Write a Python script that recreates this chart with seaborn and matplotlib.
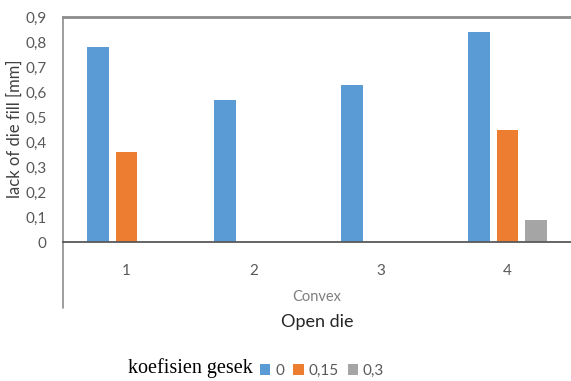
import pandas as pd
import matplotlib
matplotlib.use("Agg")
import matplotlib.pyplot as plt
import seaborn as sns

# data
kategori = ["1", "2", "3", "4"]
koefisien = ["0", "0,15", "0,3"]
nilai_0 = [0.78, 0.57, 0.63, 0.84]
nilai_015 = [0.36, 0.0, 0.0, 0.45]
nilai_03 = [0.0, 0.0, 0.0, 0.09]
y_ticks = [0, 0.1, 0.2, 0.3, 0.4, 0.5, 0.6, 0.7, 0.8, 0.9]
y_labels = ["0", "0,1", "0,2", "0,3", "0,4", "0,5", "0,6", "0,7", "0,8", "0,9"]

warna = ["#5B9BD5", "#ED7D31", "#A5A5A5"]
abu = "#595959"

df = pd.DataFrame({
    "kategori": kategori * 3,
    "koefisien": [k for k in koefisien for _ in kategori],
    "nilai": nilai_0 + nilai_015 + nilai_03,
})

sns.set_style("white")
plt.rcParams["font.family"] = ["Lato", "DejaVu Sans"]

fig = plt.figure(figsize=(5.71, 3.81), dpi=100)
ax = fig.add_axes([63 / 571, 1 - 242 / 381, 1 - 63 / 571, 225 / 381])

sns.barplot(data=df, x="kategori", y="nilai", hue="koefisien",
            palette=warna, saturation=1, width=0.67, gap=0.23,
            linewidth=0, ax=ax)

ax.set_ylim(0, 0.9)
ax.set_xlim(-0.5, 3.5)
ax.set_yticks(y_ticks)
ax.set_yticklabels(y_labels)
ax.tick_params(axis="y", length=0, pad=12, labelsize=11, labelcolor=abu)
ax.tick_params(axis="x", length=0, pad=16, labelsize=11, labelcolor=abu)
ax.set_xlabel("")
ax.set_ylabel("lack of die fill [mm]", fontsize=12, color="#404040")
ax.yaxis.set_label_coords(-0.079, 0.505)

for s in ["left", "right"]:
    ax.spines[s].set_visible(False)
ax.spines["top"].set_color("#8C8C8C")
ax.spines["top"].set_linewidth(2)
ax.spines["bottom"].set_color(abu)
ax.spines["bottom"].set_linewidth(1.3)
# left axis line runs down past the category labels (multi-level axis)
ax.plot([0, 0], [-0.293, 1], transform=ax.transAxes, color="#8C8C8C",
        linewidth=1.2, clip_on=False)

ax.text(0.5, -0.245, "Convex", transform=ax.transAxes, ha="center", va="center",
        fontsize=10.5, color="#7F7F7F")
ax.text(0.5, -0.355, "Open die", transform=ax.transAxes, ha="center", va="center",
        fontsize=13, color="#262626")

handles, labels = ax.get_legend_handles_labels()
ax.get_legend().remove()
fig.legend(handles, labels, loc="center", bbox_to_anchor=(322 / 571, 1 - 371 / 381),
           ncol=3, frameon=False, handlelength=0.7, handleheight=0.7,
           handletextpad=0.3, columnspacing=0.6, fontsize=11,
           labelcolor=abu)
fig.text(190 / 571, 1 - 368 / 381, "koefisien gesek", ha="center", va="center",
         fontsize=14.5, family="Liberation Serif", color="black")

fig.savefig("out.png", dpi=100)
